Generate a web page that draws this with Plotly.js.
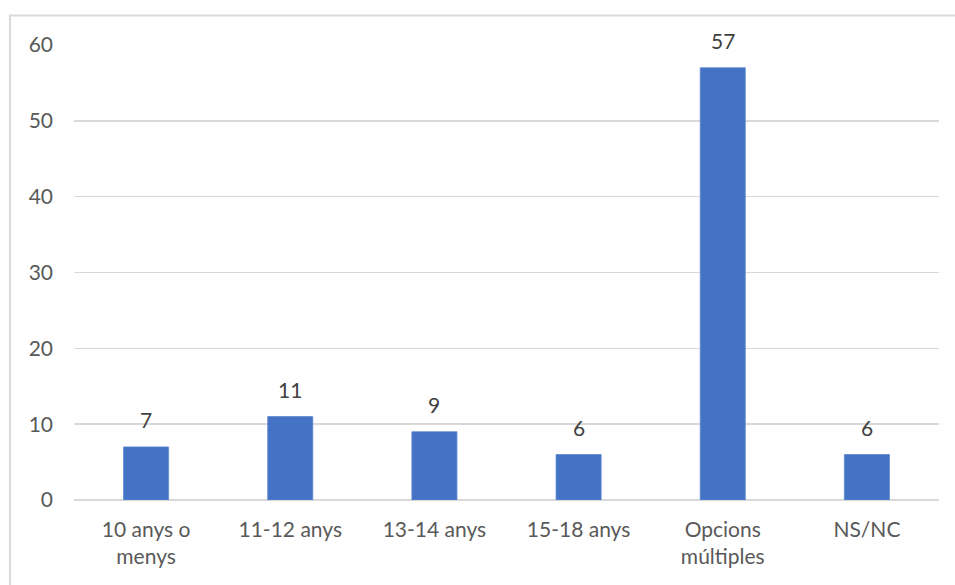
<!DOCTYPE html>
<html>
<head>
<meta charset="utf-8">
<script src="https://cdn.plot.ly/plotly-3.0.1.min.js"></script>
<style>
  html, body { margin: 0; padding: 0; background: #ffffff; }
  #chart { width: 955px; height: 585px; }
</style>
</head>
<body>
<div id="chart"></div>
<script>
// Age groups and number of responses
const categories = ["10 anys o<br>menys", "11-12 anys", "13-14 anys", "15-18 anys", "Opcions<br>múltiples", "NS/NC"];
const values = [7, 11, 9, 6, 57, 6];
const yTicks = [0, 10, 20, 30, 40, 50, 60];

const fontFamily = "Lato, 'Open Sans', 'DejaVu Sans', sans-serif";

const trace = {
  type: "bar",
  x: categories,
  y: values,
  marker: { color: "#4472C4", line: { color: "#5b86d0", width: 0.8 } },
  hoverinfo: "skip"
};

// Value labels sitting above each bar
const valueLabels = categories.map((c, i) => ({
  x: c,
  y: values[i],
  xref: "x",
  yref: "y",
  text: String(values[i]),
  showarrow: false,
  yanchor: "bottom",
  yshift: 13,
  font: { family: fontFamily, size: 21, color: "#404040" }
}));

const layout = {
  width: 955,
  height: 585,
  margin: { l: 74, r: 16, t: 45, b: 85 },
  paper_bgcolor: "#ffffff",
  plot_bgcolor: "#ffffff",
  bargap: 0.6875,
  showlegend: false,
  font: { family: fontFamily, size: 20, color: "#595959" },
  xaxis: {
    type: "category",
    showgrid: false,
    zeroline: false,
    showline: false,
    ticks: "",
    ticklabelstandoff: 15,
    tickfont: { family: fontFamily, size: 21, color: "#595959" },
    fixedrange: true
  },
  yaxis: {
    range: [0, 60],
    tickvals: yTicks,
    ticktext: yTicks.map(String),
    showgrid: true,
    gridcolor: "#d9d9d9",
    gridwidth: 1.5,
    zeroline: true,
    zerolinecolor: "#d9d9d9",
    zerolinewidth: 1.5,
    showline: false,
    ticks: "",
    ticklabelstandoff: 20,
    tickfont: { family: fontFamily, size: 21, color: "#595959" },
    fixedrange: true
  },
  annotations: valueLabels,
  shapes: [{
    type: "rect",
    xref: "paper", yref: "paper",
    x0: -0.074, x1: 1.2,
    y0: -0.4, y1: 1.0648,
    line: { color: "#d9d9d9", width: 2 },
    fillcolor: "rgba(0,0,0,0)",
    layer: "below"
  }]
};

Plotly.newPlot("chart", [trace], layout, { displayModeBar: false, staticPlot: true });
</script>
</body>
</html>
